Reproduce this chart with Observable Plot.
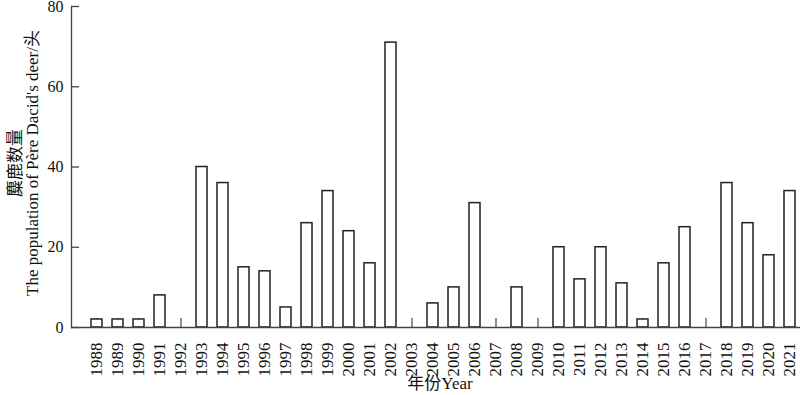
<!DOCTYPE html>
<html>
<head>
<meta charset="utf-8">
<script src="https://cdn.jsdelivr.net/npm/d3@7"></script>
<script src="https://cdn.jsdelivr.net/npm/@observablehq/plot@0.6"></script>
<style>
  html, body { margin: 0; padding: 0; background: #fff; }
  #chart { width: 800px; height: 395px; overflow: hidden; }
</style>
</head>
<body>
<div id="chart"></div>
<script>
const years = ["1988","1989","1990","1991","1992","1993","1994","1995","1996","1997","1998","1999","2000","2001","2002","2003","2004","2005","2006","2007","2008","2009","2010","2011","2012","2013","2014","2015","2016","2017","2018","2019","2020","2021"];
const counts = [2,2,2,8,0,40,36,15,14,5,26,34,24,16,71,0,6,10,31,0,10,0,20,12,20,11,2,16,25,0,36,26,18,34];
const yTicks = [0,20,40,60,80];
const yTitle = "麋鹿数量\nThe population of Père Dacid's deer/头";
const xTitle = "年份Year";

const data = years.map((y, i) => ({year: y, count: counts[i]}));
const font = "'Liberation Serif', 'Times New Roman', 'Noto Sans CJK SC', serif";
const axisColor = "#444";

// inward-pointing y ticks drawn with the plot's own y scale
function yInwardTicks(index, scales, values, dimensions) {
  const g = d3.create("svg:g").attr("aria-label", "y-axis inward tick");
  const x0 = dimensions.marginLeft;
  g.selectAll("line")
    .data(yTicks)
    .join("line")
    .attr("x1", x0)
    .attr("x2", x0 + 8)
    .attr("y1", d => scales.y(d) + 0.5)
    .attr("y2", d => scales.y(d) + 0.5)
    .attr("stroke", axisColor)
    .attr("stroke-width", 1.3);
  return g.node();
}

const chart = Plot.plot({
  width: 800,
  height: 395,
  marginLeft: 71,
  marginRight: 0,
  marginTop: 6,
  marginBottom: 68,
  style: {fontFamily: font, fontSize: "16px", color: "#111", background: "#fff"},
  x: {type: "band", domain: years, range: [76.3, 809.2], padding: 0.46, label: null},
  y: {domain: [0, 80], label: null},
  marks: [
    Plot.axisX({tickSize: -9, tickPadding: 24, tickRotate: -90, stroke: axisColor, strokeWidth: 1.2, fontSize: 17, label: null}),
    Plot.axisY({ticks: yTicks, tickSize: 0, tickPadding: 8, fontSize: 16, tickFormat: d => String(d), label: null}),
    yInwardTicks,
    Plot.barY(data, {x: "year", y: "count", fill: "white", stroke: "#222", strokeWidth: 1.5}),
    Plot.frame({anchor: "left", stroke: axisColor, strokeWidth: 1.3}),
    Plot.ruleY([0], {stroke: axisColor, strokeWidth: 1.3}),
    Plot.text([yTitle], {frameAnchor: "left", textAnchor: "middle", lineAnchor: "middle", dx: -47, dy: -4, rotate: -90, fontSize: 17, lineHeight: 1.0, fill: "#111", text: d => d}),
    Plot.text([xTitle], {frameAnchor: "bottom", dx: 4, dy: 61, fontSize: 17, fill: "#111", text: d => d})
  ]
});
document.getElementById("chart").appendChild(chart);
</script>
</body>
</html>
